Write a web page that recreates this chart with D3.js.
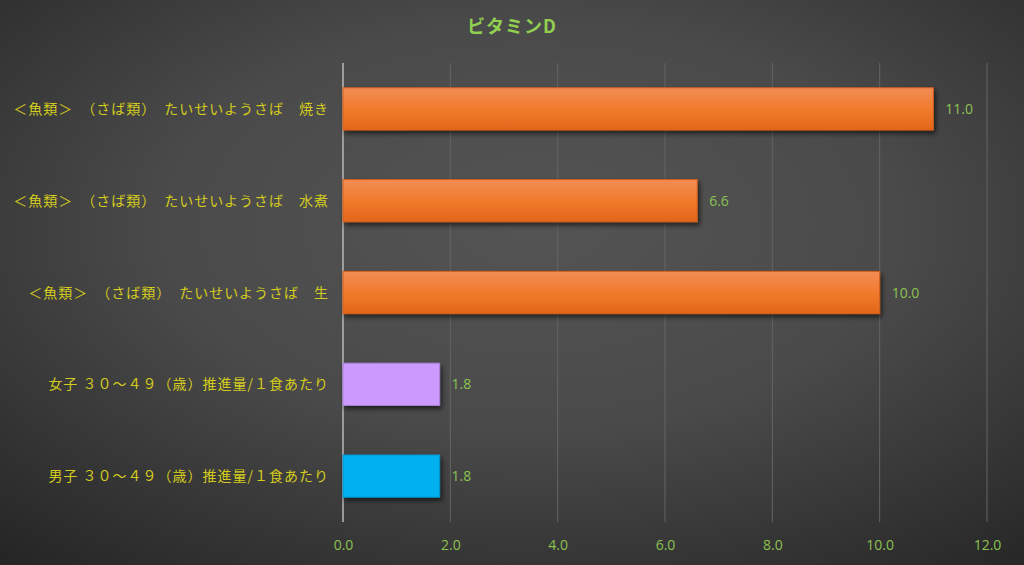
<!DOCTYPE html>
<html>
<head>
<meta charset="utf-8">
<script src="https://cdn.jsdelivr.net/npm/d3@7"></script>
<style>
  body { margin: 0; background: #333; }
  svg { display: block; }
</style>
</head>
<body>
<script>
// data
var categories = [
  "＜魚類＞　（さば類）　たいせいようさば　焼き",
  "＜魚類＞　（さば類）　たいせいようさば　水煮",
  "＜魚類＞　（さば類）　たいせいようさば　生",
  "女子 ３０～４９（歳）推進量/１食あたり",
  "男子 ３０～４９（歳）推進量/１食あたり"
];
var values = [11.0, 6.6, 10.0, 1.8, 1.8];
var barColors = ["orange", "orange", "orange", "#cc99ff", "#00b0f0"];
var tickValues = [0, 2, 4, 6, 8, 10, 12];
var title = "ビタミンD";

var w = 1024, h = 565;
var margin = {top: 63, right: 37, bottom: 43, left: 343};

var svg = d3.select('body').append('svg')
  .attr('width', w)
  .attr('height', h);

var defs = svg.append('defs');
var bg = defs.append('radialGradient').attr('id', 'bg')
  .attr('cx', '52%').attr('cy', '40%').attr('r', '80%');
bg.append('stop').attr('offset', '0%').attr('stop-color', '#545454');
bg.append('stop').attr('offset', '45%').attr('stop-color', '#4a4a4a');
bg.append('stop').attr('offset', '100%').attr('stop-color', '#242424');

var og = defs.append('linearGradient').attr('id', 'orange')
  .attr('x1', 0).attr('y1', 0).attr('x2', 0).attr('y2', 1);
og.append('stop').attr('offset', '0%').attr('stop-color', '#f28c55');
og.append('stop').attr('offset', '50%').attr('stop-color', '#f07b2c');
og.append('stop').attr('offset', '100%').attr('stop-color', '#e3661a');

var sh = defs.append('filter').attr('id', 'shadow')
  .attr('x', '-5%').attr('y', '-20%').attr('width', '115%').attr('height', '160%');
sh.append('feDropShadow').attr('dx', 2).attr('dy', 3).attr('stdDeviation', 2.5)
  .attr('flood-color', '#000').attr('flood-opacity', 0.6);

svg.append('rect').attr('width', w).attr('height', h).attr('fill', 'url(#bg)');

var xScale = d3.scaleLinear()
  .domain([0, 12])
  .range([margin.left, w - margin.right]);

var yScale = d3.scaleBand()
  .domain(categories)
  .range([margin.top, h - margin.bottom])
  .paddingInner(0.54)
  .paddingOuter(0.27);

// gridlines
svg.append('g').selectAll('line')
  .data(tickValues)
  .enter().append('line')
  .attr('x1', d => xScale(d)).attr('x2', d => xScale(d))
  .attr('y1', margin.top).attr('y2', h - margin.bottom)
  .attr('stroke', d => d === 0 ? '#b8b8b8' : '#646464')
  .attr('stroke-width', d => d === 0 ? 1.5 : 1);

// title
svg.append('text')
  .attr('x', 512).attr('y', 33)
  .attr('text-anchor', 'middle')
  .attr('fill', '#92d050')
  .style('font-family', '"Noto Sans CJK JP"')
  .style('font-weight', 'bold')
  .style('font-size', '18px')
  .style('letter-spacing', '1px')
  .text(title);

// bars
svg.append('g').selectAll('rect')
  .data(values)
  .enter().append('rect')
  .attr('x', xScale(0))
  .attr('y', (d, i) => yScale(categories[i]))
  .attr('width', d => xScale(d) - xScale(0))
  .attr('height', yScale.bandwidth())
  .attr('fill', (d, i) => barColors[i] === 'orange' ? 'url(#orange)' : barColors[i])
  .attr('stroke', (d, i) => barColors[i] === 'orange' ? '#d2601c' : d3.color(barColors[i]).darker(0.5))
  .attr('stroke-width', 1)
  .attr('filter', 'url(#shadow)');

// value labels
svg.append('g').selectAll('text')
  .data(values)
  .enter().append('text')
  .attr('x', d => xScale(d) + 12)
  .attr('y', (d, i) => yScale(categories[i]) + yScale.bandwidth() / 2 + 5)
  .attr('fill', '#8cc152')
  .style('font-family', '"Open Sans", sans-serif')
  .style('font-size', '14px')
  .text(d => d.toFixed(1));

// category labels
svg.append('g').selectAll('text')
  .data(categories)
  .enter().append('text')
  .attr('x', 329)
  .attr('y', d => yScale(d) + yScale.bandwidth() / 2 + 5)
  .attr('text-anchor', 'end')
  .attr('fill', '#d4cc1c')
  .style('font-family', '"Noto Sans CJK JP"')
  .style('font-size', '14px')
  .style('letter-spacing', '1px')
  .text(d => d);

// x axis
var xAxis = d3.axisBottom(xScale)
  .tickValues(tickValues)
  .tickFormat(d3.format('.1f'))
  .tickSize(0)
  .tickPadding(0);

var gx = svg.append('g')
  .attr('transform', `translate(0,${h - margin.bottom})`)
  .call(xAxis);
gx.select('.domain').remove();
gx.selectAll('text')
  .attr('y', 28)
  .attr('dy', 0)
  .attr('fill', '#8cc152')
  .style('font-family', '"Open Sans", sans-serif')
  .style('font-size', '14px');
</script>
</body>
</html>
